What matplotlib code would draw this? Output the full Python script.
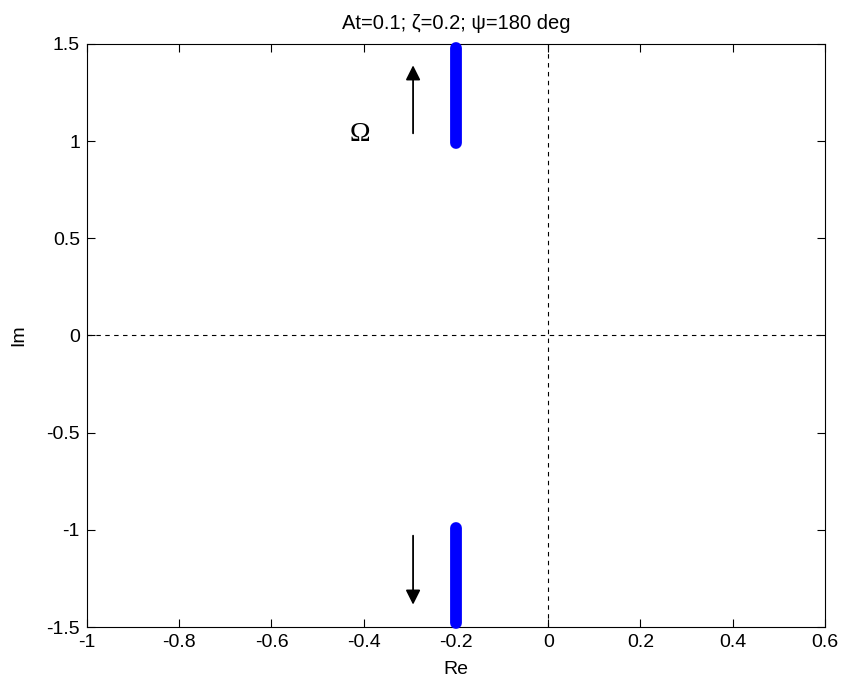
import matplotlib.pyplot as plt

# root locus branches (real, imaginary parts)
re_up = [-0.2, -0.2]
im_up = [0.99, 1.48]
re_dn = [-0.2, -0.2]
im_dn = [-0.99, -1.48]

XTICKS = [-1, -0.8, -0.6, -0.4, -0.2, 0, 0.2, 0.4, 0.6]
YTICKS = [-1.5, -1, -0.5, 0, 0.5, 1, 1.5]

plt.rcParams.update({
    "font.family": ["Liberation Sans", "DejaVu Sans"],
    "font.size": 14,
})

fig = plt.figure(figsize=(8.44, 6.82), dpi=100)
ax = fig.add_axes([0.103, 0.0806, 0.8745, 0.855])

ax.axvline(0, color="k", ls=(0, (4, 4)), lw=0.8)
ax.axhline(0, color="k", ls=(0, (4, 4)), lw=0.8)

for re, im in ((re_up, im_up), (re_dn, im_dn)):
    ax.plot(re, im, color="#0000ff", lw=8.5, solid_capstyle="round",
            clip_on=False, zorder=3)

ax.annotate("", xy=(-0.293, 1.39), xytext=(-0.293, 1.04),
            arrowprops=dict(arrowstyle="-|>", color="k", lw=1.3,
                            mutation_scale=22, shrinkA=0, shrinkB=0))
ax.annotate("", xy=(-0.293, -1.385), xytext=(-0.293, -1.03),
            arrowprops=dict(arrowstyle="-|>", color="k", lw=1.3,
                            mutation_scale=22, shrinkA=0, shrinkB=0))
ax.text(-0.408, 1.0, "Ω", family="Liberation Serif", fontsize=20,
        ha="center", va="baseline")

ax.set_xlim(-1, 0.6)
ax.set_ylim(-1.5, 1.5)
ax.set_xticks(XTICKS)
ax.set_xticklabels(["-1", "-0.8", "-0.6", "-0.4", "-0.2", "0", "0.2", "0.4", "0.6"])
ax.set_yticks(YTICKS)
ax.set_yticklabels(["-1.5", "-1", "-0.5", "0", "0.5", "1", "1.5"])
ax.tick_params(direction="in", top=True, right=True, length=6, width=0.8)
ax.tick_params(axis="x", pad=5)
ax.tick_params(axis="y", pad=5)
for s in ax.spines.values():
    s.set_linewidth(0.8)

ax.set_xlabel("Re", labelpad=7)
ax.set_ylabel("Im", labelpad=14)
ax.set_title("At=0.1; ζ=0.2; ψ=180 deg", fontsize=14.5, pad=11)

fig.savefig("out.png", dpi=100)
